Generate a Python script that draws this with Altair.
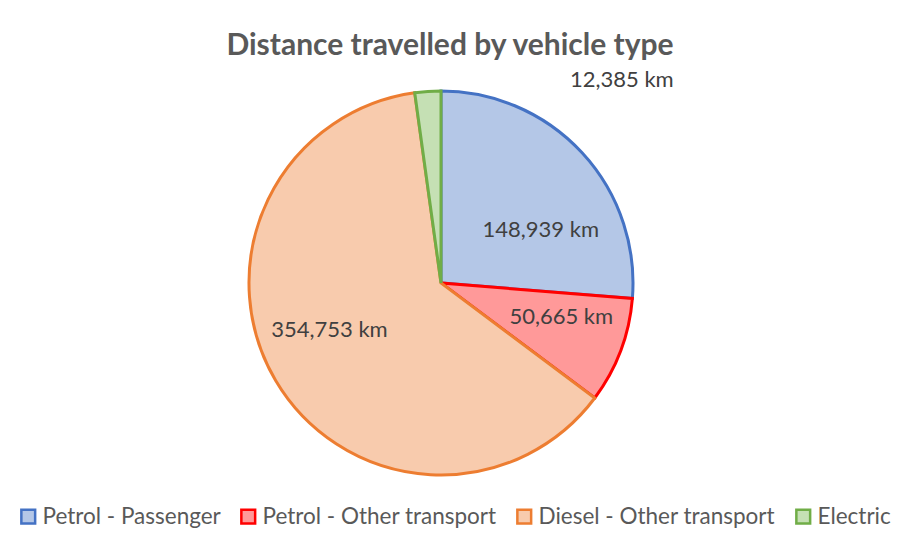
import altair as alt
import pandas as pd

categories = ["Petrol - Passenger", "Petrol - Other transport", "Diesel - Other transport", "Electric"]
distances = [148939, 50665, 354753, 12385]
fill_colors = ["#B4C7E7", "#FF9999", "#F8CBAD", "#C5E0B4"]
stroke_colors = ["#4472C4", "#FF0000", "#ED7D31", "#70AD47"]

df = pd.DataFrame({
    "category": categories,
    "km": distances,
    "order": list(range(len(categories))),
})
df["label"] = df["km"].map(lambda v: f"{v:,} km")

FONT = "Lato"
CX, CY = 433, 275

base = alt.Chart(df)

legend = alt.Legend(orient="none", direction="horizontal", title=None,
                    legendX=9, legendY=497,
                    symbolType="square", symbolSize=190, symbolStrokeWidth=2.5,
                    labelFont=FONT, labelFontSize=22.5, labelColor="#595959",
                    labelLimit=400, columnPadding=15, labelOffset=3)

pie = base.mark_arc(radius=192, strokeWidth=3, strokeJoin="miter").encode(
    theta=alt.Theta("km:Q", stack=True),
    order=alt.Order("order:Q"),
    fill=alt.Fill("category:N", scale=alt.Scale(domain=categories, range=fill_colors), legend=legend),
    stroke=alt.Stroke("category:N", scale=alt.Scale(domain=categories, range=stroke_colors), legend=legend),
    x=alt.value(CX),
    y=alt.value(CY),
)

# label placement (radius in px, angular offset in degrees from slice mid-angle)
label_radius = [113, 125, 121, 272]
label_offset_deg = [14.7, -4.9, 7.7, 45.6]


def label_layer(i):
    return base.mark_text(
        radius=label_radius[i], thetaOffset=label_offset_deg[i] * 3.14159265 / 180,
        font=FONT, fontSize=22, color="#404040"
    ).encode(
        theta=alt.Theta("km:Q", stack=True),
        order=alt.Order("order:Q"),
        text=alt.condition(alt.datum.category == categories[i], "label:N", alt.value("")),
        x=alt.value(CX),
        y=alt.value(CY),
    )


labels = [label_layer(i) for i in range(len(categories))]

title = alt.Chart(pd.DataFrame({"t": ["Distance travelled by vehicle type"]})).mark_text(
    font=FONT, fontSize=30, fontWeight="bold", color="#595959"
).encode(text="t:N", x=alt.value(442), y=alt.value(38))

chart = alt.layer(pie, *labels, title).properties(
    width=884, height=527, autosize=alt.AutoSizeParams(type="none"), padding=0
).configure_view(stroke=None)

chart.save("out.html", embed_options={"renderer": "svg", "actions": False})
